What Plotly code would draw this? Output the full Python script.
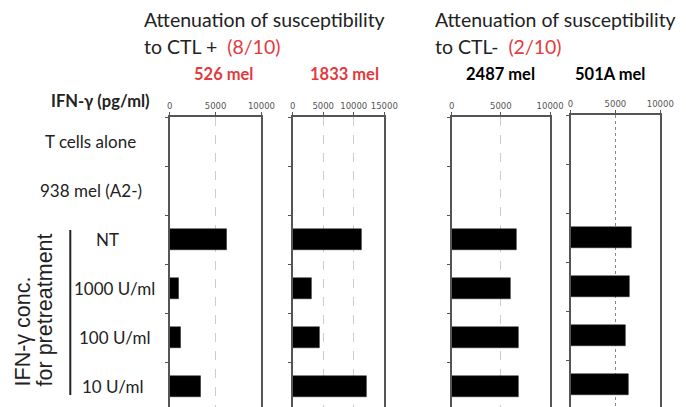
import plotly.graph_objects as go

W, H = 686, 407


def fx(x):
    return x / W


def fy(y):
    return 1 - y / H


categories = ["T cells alone", "938 mel (A2-)", "NT", "1000 U/ml", "100 U/ml", "10 U/ml"]
panel_names = ["526 mel", "1833 mel", "2487 mel", "501A mel"]
v526 = [0, 0, 6200, 1000, 1240, 3330]
v1833 = [0, 0, 11330, 3140, 4420, 12130]
v2487 = [0, 0, 6630, 6040, 6760, 6830]
v501A = [0, 0, 6810, 6520, 6120, 6410]
series = [v526, v1833, v2487, v501A]
xmax = [10000, 15000, 10000, 10000]
xticks = [[0, 5000, 10000], [0, 5000, 10000, 15000], [0, 5000, 10000], [0, 5000, 10000]]

RED = "#e4393c"
FONT = "Lato"
LINE = "#555555"

# pixel geometry of each panel: left, right, top
px = [(171, 265, 117), (297, 391, 117), (460, 561, 117), (582, 674, 115)]
CAT_PX = 49.0

fig = go.Figure()
ypos = list(range(len(categories)))
for i, (vals, (l, r, t)) in enumerate(zip(series, px)):
    k = "" if i == 0 else str(i + 1)
    fig.add_trace(go.Bar(
        x=vals, y=ypos, orientation="h", width=0.42,
        marker=dict(color="black", line=dict(color="#222", width=0.5)),
        xaxis="x" + k, yaxis="y" + k, showlegend=False, hoverinfo="x+y"))
    ybottom_val = -0.5 + (H - t) / CAT_PX
    fig.layout["xaxis" + k] = dict(
        domain=[fx(l), fx(r)], range=[0, xmax[i]], side="top",
        anchor="y" + k, tickvals=xticks[i], ticktext=[str(v) for v in xticks[i]],
        ticks="outside", ticklen=3,
        tickcolor=LINE, showline=True, linecolor=LINE, linewidth=1.5,
        showgrid=True, gridcolor="#888" if i == 3 else "#cccccc", gridwidth=1,
        griddash="dot" if i == 3 else "dash",
        tickfont=dict(family="DejaVu Sans", size=8.5, color="#555"),
        ticklabeloverflow="allow",
        zeroline=False, fixedrange=True)
    fig.layout["yaxis" + k] = dict(
        domain=[0, fy(t)], range=[ybottom_val, -0.5], anchor="x" + k,
        tickvals=[j - 0.5 for j in range(len(categories))], showticklabels=False,
        ticks="outside", ticklen=3, tickcolor=LINE,
        showline=True, mirror=True, linecolor=LINE, linewidth=1.5,
        showgrid=False, zeroline=False, fixedrange=True)

ann = []
# category labels
lab_x = [90, 90, 107, 114, 114, 113]
for j, c in enumerate(categories):
    ann.append(dict(x=fx(lab_x[j]), xref="paper", y=j, yref="y", text=c,
                    showarrow=False, xanchor="center", yanchor="middle",
                    font=dict(family=FONT, size=17, color="#222")))
# panel titles
title_cols = [RED, RED, "black", "black"]
title_x = [226, 350, 510, 622]
for name, cx, col in zip(panel_names, title_x, title_cols):
    ann.append(dict(x=fx(cx), xref="paper", y=fy(74), yref="paper", text="<b>%s</b>" % name,
                    showarrow=False, xanchor="center", yanchor="middle",
                    font=dict(family=FONT, size=16.5, color=col)))
# group headers
for gx, sub in [(143, "to CTL +  <span style='color:%s'>(8/10)</span>" % RED),
                (441, "to CTL-  <span style='color:%s'>(2/10)</span>" % RED)]:
    ann.append(dict(x=fx(gx), xref="paper", y=fy(20), yref="paper",
                    text="Attenuation of susceptibility", showarrow=False,
                    xanchor="left", yanchor="middle", font=dict(family=FONT, size=19.5, color="#222")))
    ann.append(dict(x=fx(gx), xref="paper", y=fy(46), yref="paper",
                    text=sub, showarrow=False,
                    xanchor="left", yanchor="middle", font=dict(family=FONT, size=19.5, color="#222")))
ann.append(dict(x=fx(153), xref="paper", y=fy(101), yref="paper", text="<b>IFN-γ (pg/ml)</b>",
                showarrow=False, xanchor="right", yanchor="middle",
                font=dict(family=FONT, size=16.5, color="#222")))
for lx, txt in [(21, "IFN-γ conc."), (43, "for pretreatment")]:
    ann.append(dict(x=fx(lx), xref="paper", y=fy(388), yref="paper",
                    text=txt, textangle=-90, showarrow=False,
                    xanchor="center", yanchor="bottom",
                    font=dict(family="Liberation Sans", size=21.5, color="#222")))

shapes = [dict(type="line", xref="paper", yref="paper", x0=fx(69), x1=fx(69),
               y0=fy(230), y1=fy(395), line=dict(color="#222", width=2))]

fig.update_layout(width=W, height=H, margin=dict(l=0, r=0, t=0, b=0),
                  plot_bgcolor="white", paper_bgcolor="white",
                  annotations=ann, shapes=shapes, bargap=0)
fig.write_html("out.html", config={"displayModeBar": False},
               post_script="document.body.style.margin='0';document.body.style.overflow='hidden';")
